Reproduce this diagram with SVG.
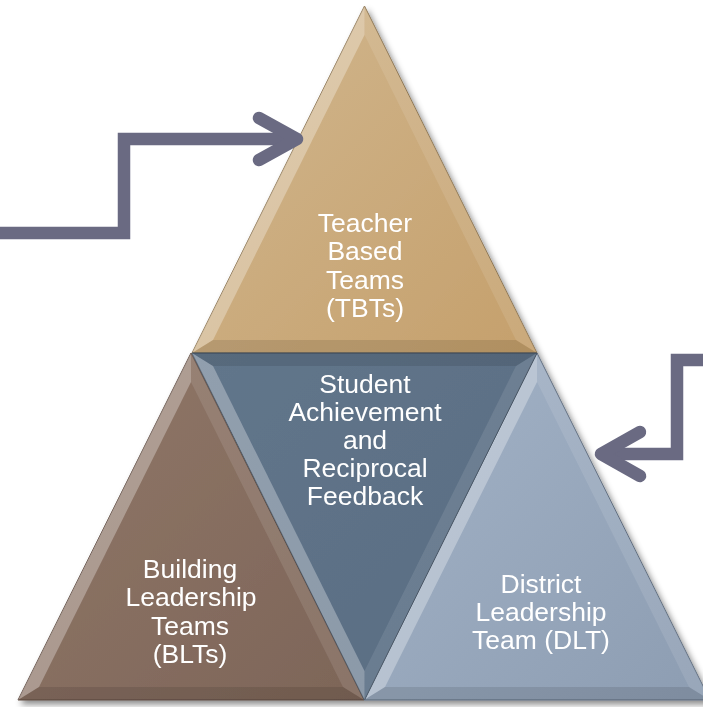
<svg xmlns="http://www.w3.org/2000/svg" width="703" height="707" viewBox="0 0 703 707">
  <defs>
    <filter id="shadow" x="-10%" y="-10%" width="130%" height="130%">
      <feDropShadow dx="3" dy="4" stdDeviation="3" flood-color="#000" flood-opacity="0.45"/>
    </filter>
    <linearGradient id="gTop" x1="0" y1="0" x2="1" y2="1">
      <stop offset="0" stop-color="#d1b78f"/>
      <stop offset="1" stop-color="#c5a06c"/>
    </linearGradient>
    <linearGradient id="gLeft" x1="0" y1="0" x2="1" y2="1">
      <stop offset="0" stop-color="#917869"/>
      <stop offset="1" stop-color="#7d6558"/>
    </linearGradient>
    <linearGradient id="gMid" x1="0" y1="0" x2="1" y2="1">
      <stop offset="0" stop-color="#62768b"/>
      <stop offset="1" stop-color="#586c82"/>
    </linearGradient>
    <linearGradient id="gRight" x1="0" y1="0" x2="1" y2="1">
      <stop offset="0" stop-color="#a3b3c7"/>
      <stop offset="1" stop-color="#8d9db2"/>
    </linearGradient>
    <style>
      .lbl { font-family: "Liberation Sans", Arial, sans-serif; font-size: 26.5px; fill: #ffffff; text-anchor: middle; }
      .edge { stroke-width: 1; stroke-linejoin: miter; }
      .hi { fill: #ffffff; fill-opacity: 0.3; }
      .mid { fill: #ffffff; fill-opacity: 0.1; }
      .lo { fill: #000000; fill-opacity: 0.1; }
      .arrow { fill: none; stroke: #6a6a82; stroke-width: 12.5; }
    </style>
  </defs>

  <g filter="url(#shadow)">
    <g id="tbt">
      <polygon points="364.5,6 192,353 537,353" fill="url(#gTop)" stroke="#8c7450" class="edge"/>
      <polygon class="hi" points="364.5,6 192,353 213,340 364.5,35"/>
      <polygon class="mid" points="364.5,6 537,353 516,340 364.5,35"/>
      <polygon class="lo" points="192,353 537,353 516,340 213,340"/>
      <text class="lbl" x="365" y="232">Teacher</text>
      <text class="lbl" x="365" y="260">Based</text>
      <text class="lbl" x="365" y="289">Teams</text>
      <text class="lbl" x="365" y="317">(TBTs)</text>
    </g>
    <g id="blt">
      <polygon points="191,353 18,700 364,700" fill="url(#gLeft)" stroke="#5e4a40" class="edge"/>
      <polygon class="hi" points="191,353 18,700 39,687 191,382"/>
      <polygon class="mid" points="191,353 364,700 343,687 191,382"/>
      <polygon class="lo" points="18,700 364,700 343,687 39,687"/>
      <text class="lbl" x="190" y="578">Building</text>
      <text class="lbl" x="191" y="606">Leadership</text>
      <text class="lbl" x="190" y="635">Teams</text>
      <text class="lbl" x="190" y="663">(BLTs)</text>
    </g>
    <g id="dlt">
      <polygon points="537,353 364,700 710,700" fill="url(#gRight)" stroke="#5c6a7c" class="edge"/>
      <polygon class="hi" points="537,353 364,700 385,687 537,382"/>
      <polygon class="mid" points="537,353 710,700 689,687 537,382"/>
      <polygon class="lo" points="364,700 710,700 689,687 385,687"/>
      <text class="lbl" x="541" y="593">District</text>
      <text class="lbl" x="541" y="621">Leadership</text>
      <text class="lbl" x="541" y="649">Team (DLT)</text>
    </g>
    <g id="sar">
      <polygon points="192,353 537,353 364.5,700" fill="url(#gMid)" stroke="#3e4c5c" class="edge"/>
      <polygon class="hi" points="192,353 364.5,700 364.5,671 213,366"/>
      <polygon class="mid" points="537,353 364.5,700 364.5,671 516,366"/>
      <polygon class="lo" points="192,353 537,353 516,366 213,366"/>
      <text class="lbl" x="365" y="393">Student</text>
      <text class="lbl" x="365" y="421">Achievement</text>
      <text class="lbl" x="365" y="449">and</text>
      <text class="lbl" x="365" y="477">Reciprocal</text>
      <text class="lbl" x="365" y="505">Feedback</text>
    </g>
  </g>

  <g id="connectors">
    <path class="arrow" d="M -10 233 H 124 V 139 H 296" stroke-linejoin="miter"/>
    <path class="arrow" d="M 259 118 L 297 139 L 259 160" stroke-linecap="round" stroke-linejoin="round"/>
    <path class="arrow" d="M 715 360 H 677 V 454 H 602" stroke-linejoin="miter"/>
    <path class="arrow" d="M 640 432 L 601 454 L 640 476" stroke-linecap="round" stroke-linejoin="round"/>
  </g>
</svg>
